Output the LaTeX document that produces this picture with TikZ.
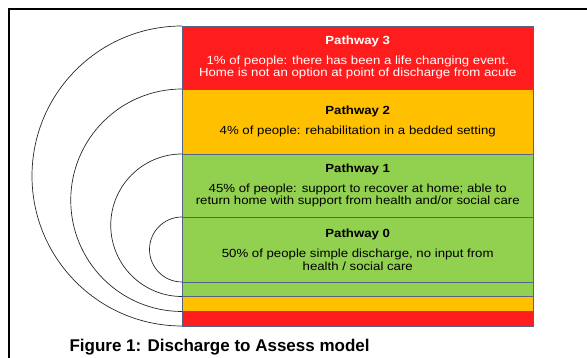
\documentclass[tikz,border=0pt]{standalone}
\usepackage{fontspec}
\setmainfont{Liberation Sans}
\newfontfamily\boxfont{Liberation Sans}[FakeStretch=1.12]
\newfontfamily\capfont{Liberation Sans}
\usetikzlibrary{positioning,calc}
\definecolor{pathred}{RGB}{255,28,28}
\definecolor{pathamber}{RGB}{255,192,0}
\definecolor{pathgreen}{RGB}{146,208,80}
\definecolor{edgeblue}{RGB}{84,98,140}
\definecolor{ringgray}{RGB}{40,40,40}

\begin{document}
\begin{tikzpicture}[x=1pt, y=1pt,
    pathbox/.style={rectangle, draw=edgeblue, line width=0.6pt, minimum width=351.5pt, inner sep=0pt, outer sep=0pt, align=center, font=\boxfont\fontsize{11.8}{12.6}\selectfont},
    strip/.style={pathbox},
    ring/.style={draw=ringgray, line width=0.7pt},
    node distance=0pt
]
\useasboundingbox (0,0) rectangle (587,358);

% Outer frame
\draw[line width=2pt] (9,0) -- (9,349) -- (587,349);

% Pathway boxes
\node[pathbox, fill=pathred, text=white, minimum height=63pt, anchor=north west] (p3) at (182,332)
    {\textbf{Pathway 3}\\[7.4pt]1\% of people: there has been a life changing event.\\Home is not an option at point of discharge from acute};
\node[pathbox, fill=pathamber, minimum height=65pt, below=of p3] (p2)
    {\textbf{Pathway 2}\\[7.4pt]4\% of people: rehabilitation in a bedded setting};
\node[pathbox, fill=pathgreen, minimum height=63pt, below=of p2] (p1)
    {\textbf{Pathway 1}\\[7.4pt]45\% of people: support to recover at home; able to\\return home with support from health and/or social care};
\node[pathbox, fill=pathgreen, minimum height=65pt, below=of p1] (p0)
    {\textbf{Pathway 0}\\[7.4pt]50\% of people simple discharge, no input from\\health / social care};

% Bottom strips
\node[strip, fill=pathgreen, minimum height=14.5pt, below=of p0] (s1) {};
\node[strip, fill=pathamber, minimum height=15pt, below=of s1] (s2) {};
\node[strip, fill=pathred, minimum height=14.5pt, below=of s2] (s3) {};

% Rings
\draw[ring] let \p1=(p3.north west), \p2=(s3.south west) in (\p1) arc[start angle=90, end angle=270, radius={0.5*(\y1-\y2)}];
\draw[ring] let \p1=(p2.north west), \p2=(s2.south west) in (\p1) arc[start angle=90, end angle=270, radius={0.5*(\y1-\y2)}];
\draw[ring] let \p1=(p1.north west), \p2=(s1.south west) in (\p1) arc[start angle=90, end angle=270, radius={0.5*(\y1-\y2)}];
\draw[ring] let \p1=(p0.north west), \p2=(p0.south west) in (\p1) arc[start angle=90, end angle=270, radius={0.5*(\y1-\y2)}];

% Caption
\node[anchor=base west, font=\capfont\bfseries\fontsize{17}{20}\selectfont] (caption) at (66,6.5) {Figure 1: Discharge to Assess model};

\end{tikzpicture}
\end{document}
